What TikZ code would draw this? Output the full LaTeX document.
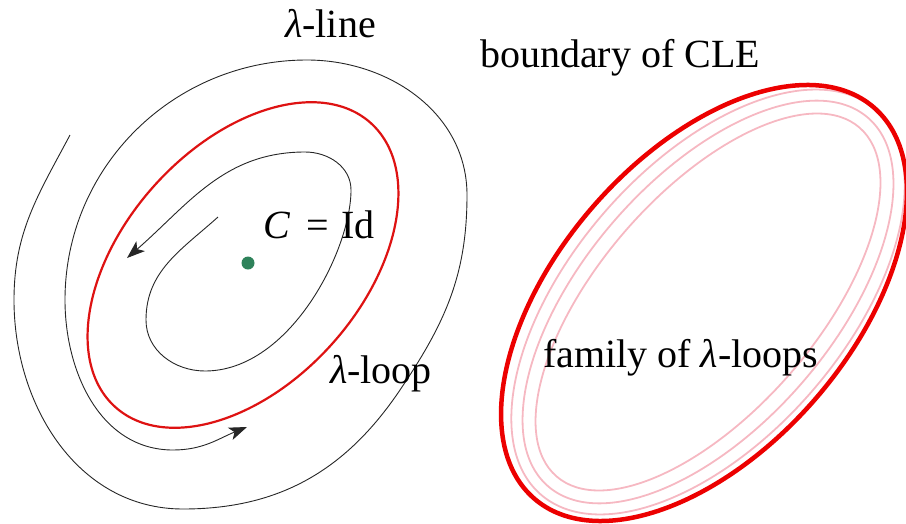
\documentclass[tikz,border=0pt]{standalone}
\usepackage{fontspec}
\setmainfont{Liberation Serif}
\usetikzlibrary{arrows.meta}
\definecolor{loopred}{RGB}{222,18,18}
\definecolor{clered}{RGB}{236,0,0}
\definecolor{famPink}{RGB}{246,184,194}
\definecolor{dotgreen}{RGB}{46,130,90}
\tikzset{
  flowline/.style={draw=black!85, line width=0.9pt},
  tipped/.style={-{Stealth[length=18pt,width=13pt,inset=4.5pt]}},
  lbl/.style={inner sep=0pt, anchor=base west, font=\fontsize{40}{48}\selectfont},
}
\begin{document}
\begin{tikzpicture}[x=1pt,y=-1pt]
\useasboundingbox (0,0) rectangle (906,523);
% key points of the outer spiral (lambda-line)
\coordinate (p0) at (70,135);
\coordinate (p1) at (14,300);
\coordinate (p2) at (183,509);
\coordinate (p2m) at (400,390);
\coordinate (p3) at (467,195);
\coordinate (p4) at (307,60);
\coordinate (p5) at (65,300);
\coordinate (p6) at (173,450);
\coordinate (p7) at (247,427);
\draw[flowline,tipped] (p0) to[out=242,in=90] (p1) to[out=270,in=180] (p2)
  to[out=0,in=236] (p2m) to[out=56,in=270] (p3) to[out=90,in=0] (p4)
  to[out=180,in=90] (p5) to[out=270,in=180] (p6) to[out=0,in=202] (p7);
% key points of the inner spiral
\coordinate (q0) at (218,217);
\coordinate (q1) at (146,320);
\coordinate (q2) at (205,371);
\coordinate (q3) at (351,190);
\coordinate (q4) at (305,152);
\coordinate (q5) at (127,258);
\draw[flowline,tipped] (q0) to[out=222,in=90] (q1) to[out=270,in=180] (q2)
  .. controls (290,371) and (351,250) .. (q3) to[out=90,in=0] (q4)
  to[out=180,in=41] (q5);
% lambda-loop
\coordinate (lc) at (243,265);
\draw[loopred, line width=2.2pt, rotate around={48:(lc)}] (lc) ellipse [x radius=191pt, y radius=119pt];
\fill[dotgreen] (248,263) circle (6.5pt);
% family of loops
\coordinate (fc) at (704,303);
\coordinate (pc) at (708,302);
\draw[famPink, line width=1.8pt, rotate around={49:(pc)}] (pc) ellipse [x radius=255pt, y radius=137pt];
\draw[famPink, line width=1.8pt, rotate around={49:(pc)}] (pc) ellipse [x radius=244pt, y radius=124pt];
\draw[famPink, line width=1.8pt, rotate around={49:(pc)}] (pc) ellipse [x radius=231pt, y radius=109pt];
\draw[clered, line width=4.5pt, rotate around={49:(fc)}] (fc) ellipse [x radius=259pt, y radius=147pt];
% labels
\node[lbl] (tline) at (285,37) {{\itshape λ}-line};
\node[lbl] (tbound) at (480,67) {boundary of CLE};
\node[lbl] (tid) at (263,238) {{\itshape C}\hspace{0.42em}=\hspace{0.3em}Id};
\node[lbl] (tloop) at (330,383) {{\itshape λ}-loop};
\node[lbl] (tfam) at (543,367) {family of {\itshape λ}-loops};
\end{tikzpicture}
\end{document}
